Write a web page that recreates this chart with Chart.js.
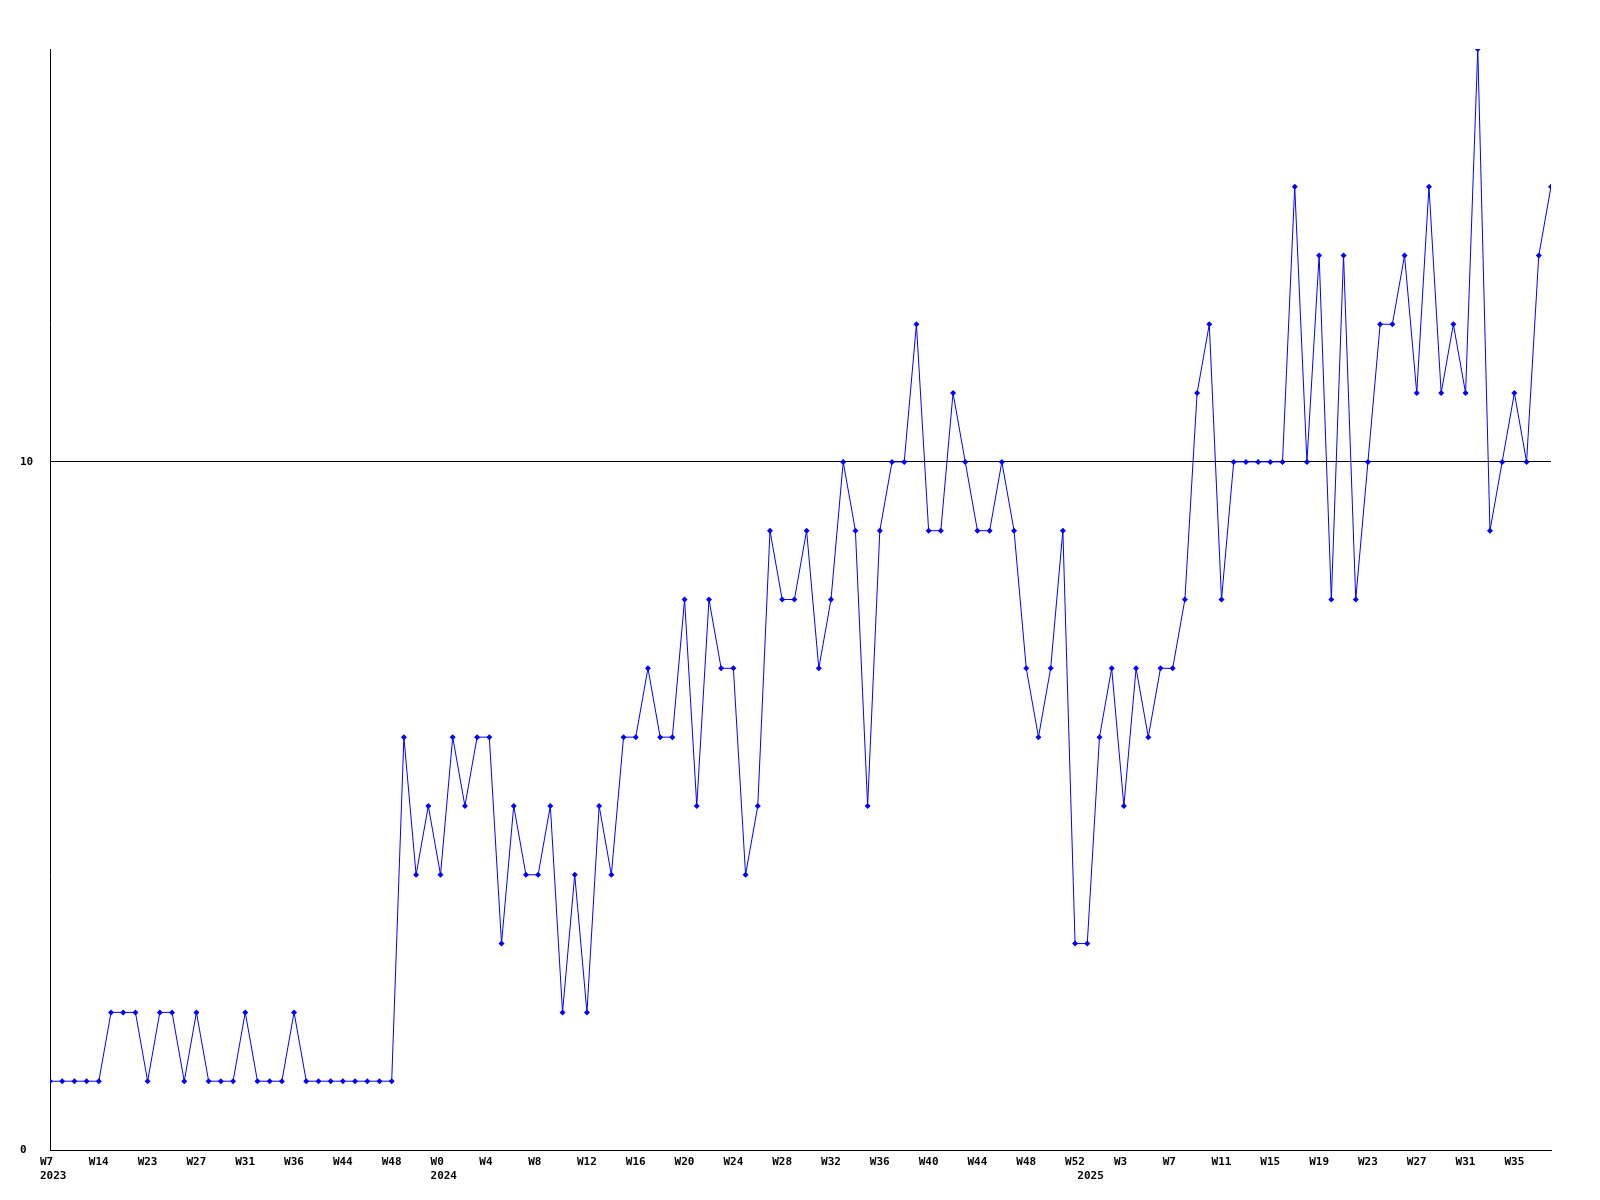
<!DOCTYPE html>
<html>
<head>
<meta charset="utf-8">
<script src="https://cdn.jsdelivr.net/npm/chart.js@4/dist/chart.umd.min.js"></script>
<style>
  body { margin: 0; background: #fff; }
  #wrap { width: 1600px; height: 1200px; }
</style>
</head>
<body>
<div id="wrap"><canvas id="weekly" width="1600" height="1200"></canvas></div>
<script>
// weekly counts, one per point (2023 W7 .. 2025 W38)
var values = [
    1, 1, 1, 1, 1, 2, 2, 2, 1, 2, 2, 1, 2, 1, 1, 1, 2, 1, 1, 1, 2, 1, 1, 1, 1, 1, 1, 1, 1,
    6, 4, 5, 4, 6, 5, 6, 6, 3, 5, 4, 4, 5, 2, 4, 2, 5, 4, 6, 6, 7, 6, 6, 8, 5, 8, 7, 7, 4, 5, 9,
    8, 8, 9, 7, 8, 10, 9, 5, 9, 10, 10, 12, 9, 9, 11, 10, 9, 9, 10, 9, 7, 6, 7, 9, 3, 3, 6, 7, 5, 7,
    6, 7, 7, 8, 11, 12, 8, 10, 10, 10, 10, 10, 14, 10, 13, 8, 13, 8, 10, 12, 12, 13, 11, 14, 11, 12, 11, 16, 9, 10, 11, 10, 13, 14
];

// week label on every 4th point
var weekLabels = ['W7', 'W14', 'W23', 'W27', 'W31', 'W36', 'W44', 'W48',
    'W0', 'W4', 'W8', 'W12', 'W16', 'W20', 'W24', 'W28', 'W32', 'W36', 'W40', 'W44', 'W48', 'W52',
    'W3', 'W7', 'W11', 'W15', 'W19', 'W23', 'W27', 'W31', 'W35'];
var weekStep = 4;

// year labels sit under the first point of each year
var years = ['2023', '2024', '2025'];
var yearStart = [0, 32, 85];

var yTicks = [0, 10];
var yMax = 16;

var labelFont = { family: 'DejaVu Sans Mono', size: 11, weight: 'bold', lineHeight: 1.2 };

function xLabel(idx) {
    var lines = ['', ''];
    if (idx % weekStep === 0 && weekLabels[idx / weekStep] !== undefined) {
        lines[0] = weekLabels[idx / weekStep];
    }
    var y = yearStart.indexOf(idx);
    if (y >= 0) lines[1] = years[y];
    return lines[1] ? lines : lines[0];
}

var points = values.map(function (v, i) { return { x: i, y: v }; });

var ctx = document.getElementById('weekly').getContext('2d');
new Chart(ctx, {
    type: 'line',
    data: {
        datasets: [{
            data: points,
            borderColor: '#0000ff',
            borderWidth: 1,
            backgroundColor: '#0000ff',
            pointStyle: 'rectRot',
            pointRadius: 3,
            pointBorderWidth: 0,
            tension: 0,
            fill: false
        }]
    },
    options: {
        responsive: false,
        animation: false,
        layout: { padding: { left: 20, top: 49, right: 49, bottom: 0 } },
        plugins: {
            legend: { display: false },
            tooltip: { enabled: false }
        },
        scales: {
            x: {
                type: 'linear',
                min: 0,
                max: values.length - 1,
                grid: { display: false },
                border: { display: true, color: '#000', width: 1 },
                afterBuildTicks: function (scale) {
                    var idx = [];
                    weekLabels.forEach(function (w, i) { idx.push(i * weekStep); });
                    yearStart.forEach(function (s) { if (idx.indexOf(s) < 0) idx.push(s); });
                    idx.sort(function (a, b) { return a - b; });
                    scale.ticks = idx.map(function (v) { return { value: v }; });
                },
                afterFit: function (scale) {
                    scale.height = 50;
                    scale.paddingLeft = 0;
                    scale.paddingRight = 0;
                },
                ticks: {
                    autoSkip: false,
                    maxRotation: 0,
                    align: 'start',
                    labelOffset: -10,
                    padding: -2,
                    color: '#000',
                    font: labelFont,
                    callback: function (value) { return xLabel(value); }
                }
            },
            y: {
                min: 0,
                max: yMax,
                grid: { display: true, drawTicks: false, color: '#000', lineWidth: 1 },
                border: { display: true, color: '#000', width: 1 },
                afterBuildTicks: function (scale) {
                    scale.ticks = yTicks.map(function (v) { return { value: v }; });
                },
                afterFit: function (scale) {
                    scale.width = 30;
                    scale.paddingTop = 0;
                    scale.paddingBottom = 0;
                },
                ticks: {
                    crossAlign: 'far',
                    padding: 0,
                    color: '#000',
                    font: labelFont
                }
            }
        }
    }
});
</script>
</body>
</html>
